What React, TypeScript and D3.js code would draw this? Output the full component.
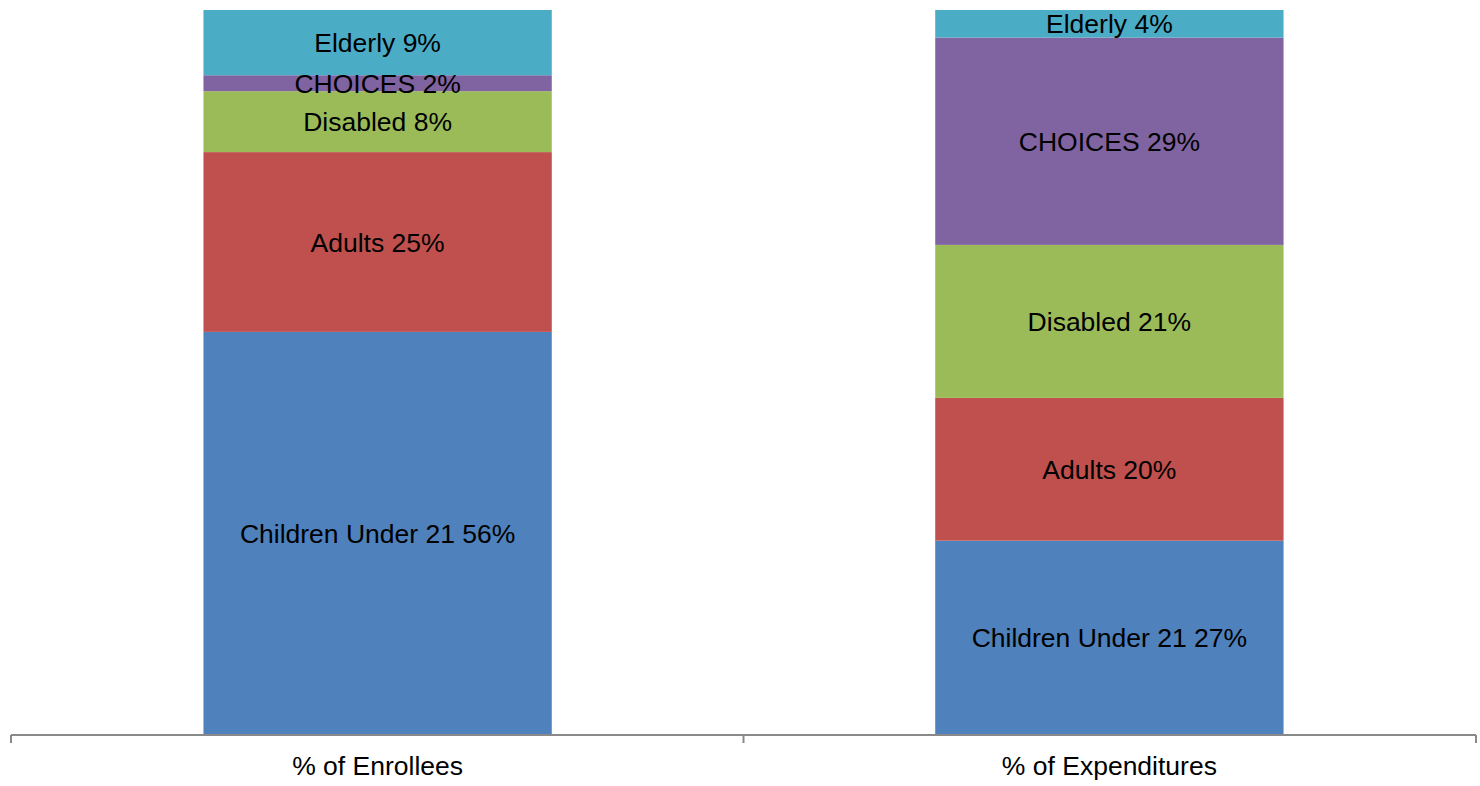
import React, { useEffect, useRef } from "react";
import * as d3 from "d3";

const categories = ["% of Enrollees", "% of Expenditures"];
const groups = ["Children Under 21", "Adults", "Disabled", "CHOICES", "Elderly"];
const enrollees = [55.6, 24.8, 8.4, 2.2, 9.0];
const expenditures = [26.8, 19.7, 21.1, 28.6, 3.8];
const colors = ["#4F81BD", "#C0504D", "#9BBB59", "#8064A2", "#4BACC6"];

const App = () => {
    const svgRef = useRef<SVGSVGElement>(null);

    useEffect(() => {
        const width = 1480;
        const height = 786;
        const left = 11, right = 1476, top = 10, bottom = 735;
        const font = "Arial, 'Liberation Sans', sans-serif";

        const svg = d3.select(svgRef.current)
            .attr("width", width)
            .attr("height", height)
            .style("display", "block");
        svg.selectAll("*").remove();

        const rows = categories.map((c, i) => {
            const vals = i === 0 ? enrollees : expenditures;
            const row: any = { category: c };
            groups.forEach((g, j) => { row[g] = vals[j]; });
            return row;
        });

        const stacked = d3.stack().keys(groups)(rows);

        const x = d3.scaleBand()
            .domain(categories)
            .range([left, right])
            .paddingInner(0.524)
            .paddingOuter(0.263);

        const y = d3.scaleLinear()
            .domain([0, 100])
            .range([bottom, top]);

        const layers = svg.append("g")
            .selectAll("g")
            .data(stacked)
            .enter()
            .append("g")
            .attr("fill", (d, i) => colors[i]);

        layers.selectAll("rect")
            .data(d => d)
            .enter()
            .append("rect")
            .attr("x", (d: any) => x(d.data.category))
            .attr("y", d => y(d[1]))
            .attr("width", x.bandwidth())
            .attr("height", d => y(d[0]) - y(d[1]));

        const labels = svg.append("g")
            .attr("font-family", font)
            .attr("font-size", 26.5)
            .attr("text-anchor", "middle")
            .attr("fill", "#000");

        stacked.forEach(layer => {
            layer.forEach((d: any) => {
                labels.append("text")
                    .attr("x", (x(d.data.category) as number) + x.bandwidth() / 2)
                    .attr("y", (y(d[0]) + y(d[1])) / 2)
                    .attr("dy", "0.36em")
                    .text(`${layer.key} ${Math.round(d[1] - d[0])}%`);
            });
        });

        // category axis
        const axis = svg.append("g").attr("stroke", "#898989").attr("stroke-width", 2);
        axis.append("line")
            .attr("x1", left).attr("x2", right)
            .attr("y1", bottom).attr("y2", bottom);
        const tickXs = [left, ...categories.slice(1).map(c => (x(c) as number) - x.step() * x.paddingInner() / 2), right];
        axis.selectAll(".tick")
            .data(tickXs)
            .enter()
            .append("line")
            .attr("x1", d => d).attr("x2", d => d)
            .attr("y1", bottom).attr("y2", bottom + 8);

        svg.append("g")
            .attr("font-family", font)
            .attr("font-size", 26.5)
            .attr("text-anchor", "middle")
            .selectAll("text")
            .data(categories)
            .enter()
            .append("text")
            .attr("x", d => (x(d) as number) + x.bandwidth() / 2)
            .attr("y", 775)
            .text(d => d);
    }, []);

    return (
        <div style={{ position: "absolute", left: 0, top: 0 }}>
            <svg ref={svgRef}></svg>
        </div>
    );
};

export default App;
